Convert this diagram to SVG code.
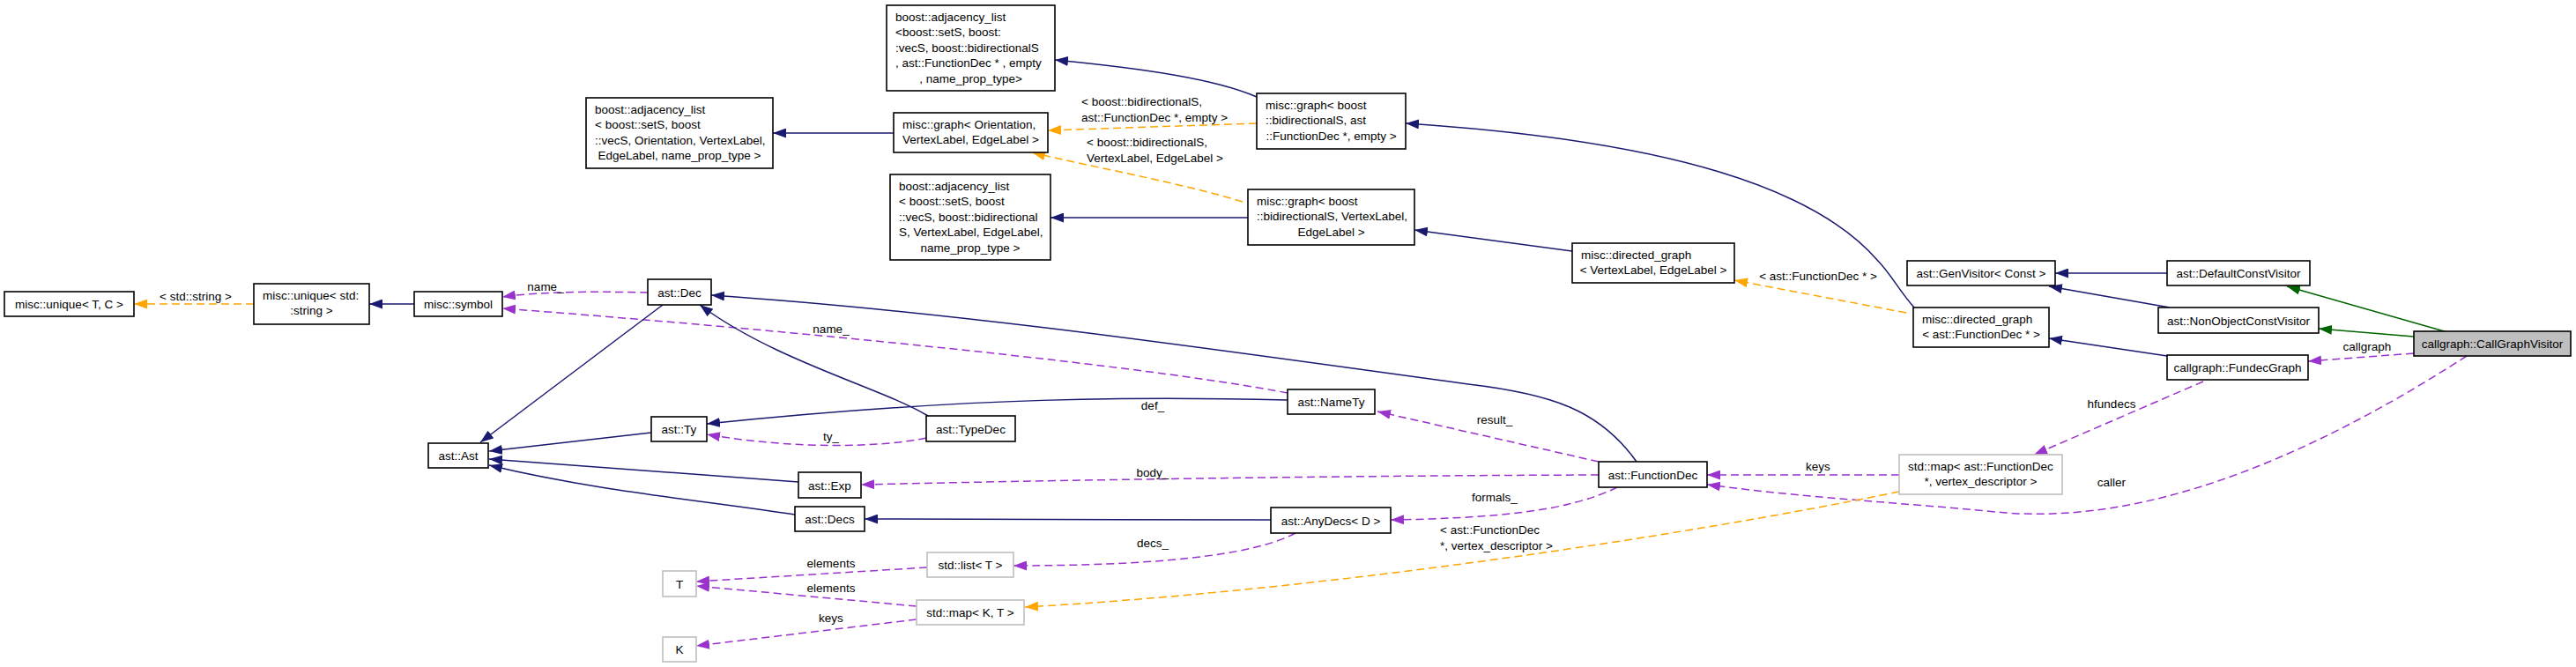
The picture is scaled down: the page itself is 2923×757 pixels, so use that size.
<svg xmlns="http://www.w3.org/2000/svg" width="2923" height="757" viewBox="0 0 2923 757">
<style>
.t{font-family:"Liberation Sans",Arial,Helvetica,sans-serif;font-size:13.5px;fill:#000}
.m{text-anchor:middle}
.b{fill:#fff;stroke:#000;stroke-width:1.6}
.g{fill:#fff;stroke:#bfbfbf;stroke-width:1.6}
.s{fill:#bfbfbf;stroke:#000;stroke-width:1.6}
.e{fill:none;stroke-width:1.5}
.nv{stroke:#191970;marker-end:url(#an)}
.pu{stroke:#9a32cd;stroke-dasharray:9,5;marker-end:url(#ap)}
.or{stroke:#ffa500;stroke-dasharray:9,5;marker-end:url(#ao)}
.gr{stroke:#006400;marker-end:url(#ag)}
</style>
<defs>
<marker id="an" viewBox="0 0 15 11" refX="15" refY="5.5" markerWidth="15" markerHeight="11" orient="auto" markerUnits="userSpaceOnUse"><path d="M0,0 L15,5.5 L0,11 z" fill="#191970"/></marker>
<marker id="ap" viewBox="0 0 15 11" refX="15" refY="5.5" markerWidth="15" markerHeight="11" orient="auto" markerUnits="userSpaceOnUse"><path d="M0,0 L15,5.5 L0,11 z" fill="#9a32cd"/></marker>
<marker id="ao" viewBox="0 0 15 11" refX="15" refY="5.5" markerWidth="15" markerHeight="11" orient="auto" markerUnits="userSpaceOnUse"><path d="M0,0 L15,5.5 L0,11 z" fill="#ffa500"/></marker>
<marker id="ag" viewBox="0 0 15 11" refX="15" refY="5.5" markerWidth="15" markerHeight="11" orient="auto" markerUnits="userSpaceOnUse"><path d="M0,0 L15,5.5 L0,11 z" fill="#006400"/></marker>
</defs>
<rect width="2923" height="757" fill="#fff"/>
<g id="edges">
<path class="e or" d="M288,345 L152,345"/>
<path class="e nv" d="M470,345 L419,345"/>
<path class="e nv" d="M1014,151 L877,151"/>
<path class="e nv" d="M1426,110 C1380,90 1300,78 1197,68"/>
<path class="e or" d="M1426,140 L1189,148"/>
<path class="e or" d="M1410,229 C1330,205 1240,190 1171,173"/>
<path class="e nv" d="M1416,247 L1192,247"/>
<path class="e nv" d="M1784,285 L1605,261"/>
<path class="e nv" d="M2172,349 C2155,330 2145,310 2130,295 C2060,215 1900,160 1595,140"/>
<path class="e or" d="M2163,355 L1968,318"/>
<path class="e nv" d="M2459,310 L2332,310"/>
<path class="e nv" d="M2462,349 L2325,325"/>
<path class="e gr" d="M2777,377 L2595,325"/>
<path class="e gr" d="M2739,382 L2631,373"/>
<path class="e nv" d="M2459,404 L2325,384"/>
<path class="e pu" d="M2739,401 L2619,410"/>
<path class="e pu" d="M2500,433 L2308,516"/>
<path class="e pu" d="M2155,539 L1937,539"/>
<path class="e pu" d="M2799,404 C2650,500 2450,600 2265,581 C2150,570 2050,565 1937,550"/>
<path class="e or" d="M2155,558 C1900,610 1500,670 1163,689"/>
<path class="e pu" d="M735,332 C690,331 620,330 570,337"/>
<path class="e pu" d="M1461,446 C1300,415 900,375 570,350"/>
<path class="e nv" d="M752,346 L545,502"/>
<path class="e nv" d="M739,491 L555,512"/>
<path class="e nv" d="M906,547 L555,521"/>
<path class="e nv" d="M902,584 C800,568 680,558 555,528"/>
<path class="e nv" d="M1053,472 C1000,440 880,410 794,346"/>
<path class="e nv" d="M1461,454 C1300,450 1100,450 802,481"/>
<path class="e pu" d="M1051,497 C1000,508 900,510 802,493"/>
<path class="e nv" d="M1857,524 C1815,465 1760,447 1666,436 C1400,400 1100,355 807,335"/>
<path class="e pu" d="M1814,524 L1563,467"/>
<path class="e pu" d="M1814,539 C1500,540 1200,545 977,550"/>
<path class="e pu" d="M1835,553 C1780,580 1700,588 1578,590"/>
<path class="e nv" d="M1442,590 L981,589"/>
<path class="e pu" d="M1470,605 C1420,632 1300,642 1150,642"/>
<path class="e pu" d="M1052,644 L790,660"/>
<path class="e pu" d="M1040,688 L790,665"/>
<path class="e pu" d="M1040,703 L790,733"/>
<text class="t m" x="222" y="341">&lt; std::string &gt;</text>
<text class="t m" x="619" y="330">name_</text>
<text class="t m" x="943" y="378">name_</text>
<text class="t" x="1227" y="120">&lt; boost::bidirectionalS,</text>
<text class="t" x="1227" y="138">ast::FunctionDec *, empty &gt;</text>
<text class="t" x="1233" y="166">&lt; boost::bidirectionalS,</text>
<text class="t" x="1233" y="184">VertexLabel, EdgeLabel &gt;</text>
<text class="t m" x="2063" y="318">&lt; ast::FunctionDec * &gt;</text>
<text class="t m" x="2686" y="398">callgraph</text>
<text class="t m" x="2396" y="463">hfundecs</text>
<text class="t m" x="2063" y="534">keys</text>
<text class="t m" x="2396" y="552">caller</text>
<text class="t m" x="1308" y="465">def_</text>
<text class="t m" x="1696" y="481">result_</text>
<text class="t m" x="1308" y="541">body_</text>
<text class="t m" x="1696" y="569">formals_</text>
<text class="t m" x="1308" y="621">decs_</text>
<text class="t m" x="943" y="500">ty_</text>
<text class="t m" x="943" y="644">elements</text>
<text class="t m" x="943" y="672">elements</text>
<text class="t m" x="943" y="706">keys</text>
<text class="t" x="1634" y="606">&lt; ast::FunctionDec</text>
<text class="t" x="1634" y="624">*, vertex_descriptor &gt;</text>
</g>
<g id="n_uniqueTC"><rect class="b" x="5" y="331" width="147" height="28"/><text class="t m" x="78.5" y="350">misc::unique&lt; T, C &gt;</text></g>
<g id="n_uniqueStr"><rect class="b" x="288" y="322" width="131" height="46"/><text class="t" x="298" y="340">misc::unique&lt; std:</text><text class="t m" x="353.5" y="357.4">:string &gt;</text></g>
<g id="n_symbol"><rect class="b" x="470" y="331" width="100" height="28"/><text class="t m" x="520" y="350">misc::symbol</text></g>
<g id="n_adjOri"><rect class="b" x="665" y="111" width="212" height="80"/><text class="t" x="675" y="129">boost::adjacency_list</text><text class="t" x="675" y="146.4">&lt; boost::setS, boost</text><text class="t" x="675" y="163.8">::vecS, Orientation, VertexLabel,</text><text class="t m" x="771" y="181.2">EdgeLabel, name_prop_type &gt;</text></g>
<g id="n_adjFD"><rect class="b" x="1006" y="6" width="191" height="97"/><text class="t" x="1016" y="24">boost::adjacency_list</text><text class="t" x="1016" y="41.4">&lt;boost::setS, boost:</text><text class="t" x="1016" y="58.8">:vecS, boost::bidirectionalS</text><text class="t" x="1016" y="76.2">, ast::FunctionDec * , empty</text><text class="t m" x="1101.5" y="93.6">, name_prop_type&gt;</text></g>
<g id="n_graphOri"><rect class="b" x="1014" y="128" width="175" height="45"/><text class="t" x="1024" y="146">misc::graph&lt; Orientation,</text><text class="t m" x="1101.5" y="163.4">VertexLabel, EdgeLabel &gt;</text></g>
<g id="n_adjVL"><rect class="b" x="1010" y="198" width="182" height="97"/><text class="t" x="1020" y="216">boost::adjacency_list</text><text class="t" x="1020" y="233.4">&lt; boost::setS, boost</text><text class="t" x="1020" y="250.8">::vecS, boost::bidirectional</text><text class="t" x="1020" y="268.2">S, VertexLabel, EdgeLabel,</text><text class="t m" x="1101" y="285.6">name_prop_type &gt;</text></g>
<g id="n_graphFD"><rect class="b" x="1426" y="106" width="169" height="63"/><text class="t" x="1436" y="124">misc::graph&lt; boost</text><text class="t" x="1436" y="141.4">::bidirectionalS, ast</text><text class="t m" x="1510.5" y="158.8">::FunctionDec *, empty &gt;</text></g>
<g id="n_graphVL"><rect class="b" x="1416" y="215" width="189" height="63"/><text class="t" x="1426" y="233">misc::graph&lt; boost</text><text class="t" x="1426" y="250.4">::bidirectionalS, VertexLabel,</text><text class="t m" x="1510.5" y="267.8">EdgeLabel &gt;</text></g>
<g id="n_dgVL"><rect class="b" x="1784" y="276" width="184" height="45"/><text class="t" x="1794" y="294">misc::directed_graph</text><text class="t m" x="1876" y="311.4">&lt; VertexLabel, EdgeLabel &gt;</text></g>
<g id="n_dgFD"><rect class="b" x="2171" y="349" width="154" height="45"/><text class="t" x="2181" y="367">misc::directed_graph</text><text class="t m" x="2248" y="384.4">&lt; ast::FunctionDec * &gt;</text></g>
<g id="n_genVisitor"><rect class="b" x="2164" y="296" width="168" height="28"/><text class="t m" x="2248" y="315">ast::GenVisitor&lt; Const &gt;</text></g>
<g id="n_defaultCV"><rect class="b" x="2459" y="296" width="162" height="28"/><text class="t m" x="2540" y="315">ast::DefaultConstVisitor</text></g>
<g id="n_nonObjCV"><rect class="b" x="2449" y="349" width="182" height="29"/><text class="t m" x="2540" y="368.5">ast::NonObjectConstVisitor</text></g>
<g id="n_cgv"><rect class="s" x="2739" y="376" width="178" height="28"/><text class="t m" x="2828" y="395">callgraph::CallGraphVisitor</text></g>
<g id="n_fundecGraph"><rect class="b" x="2459" y="403" width="160" height="28"/><text class="t m" x="2539" y="422">callgraph::FundecGraph</text></g>
<g id="n_mapFD"><rect class="g" x="2155" y="516" width="185" height="45"/><text class="t" x="2165" y="534">std::map&lt; ast::FunctionDec</text><text class="t m" x="2247.5" y="551.4">*, vertex_descriptor &gt;</text></g>
<g id="n_functionDec"><rect class="b" x="1814" y="524" width="123" height="29"/><text class="t m" x="1875.5" y="543.5">ast::FunctionDec</text></g>
<g id="n_dec"><rect class="b" x="735" y="317" width="72" height="29"/><text class="t m" x="771" y="336.5">ast::Dec</text></g>
<g id="n_ast"><rect class="b" x="486" y="503" width="68" height="28"/><text class="t m" x="520" y="522">ast::Ast</text></g>
<g id="n_ty"><rect class="b" x="739" y="473" width="63" height="28"/><text class="t m" x="770.5" y="492">ast::Ty</text></g>
<g id="n_exp"><rect class="b" x="906" y="536" width="71" height="29"/><text class="t m" x="941.5" y="555.5">ast::Exp</text></g>
<g id="n_decs"><rect class="b" x="902" y="575" width="79" height="28"/><text class="t m" x="941.5" y="594">ast::Decs</text></g>
<g id="n_T"><rect class="g" x="752" y="648" width="38" height="29"/><text class="t m" x="771" y="667.5">T</text></g>
<g id="n_K"><rect class="g" x="752" y="723" width="38" height="28"/><text class="t m" x="771" y="742">K</text></g>
<g id="n_nameTy"><rect class="b" x="1461" y="442" width="99" height="28"/><text class="t m" x="1510.5" y="461">ast::NameTy</text></g>
<g id="n_typeDec"><rect class="b" x="1051" y="472" width="101" height="29"/><text class="t m" x="1101.5" y="491.5">ast::TypeDec</text></g>
<g id="n_anyDecs"><rect class="b" x="1442" y="576" width="136" height="29"/><text class="t m" x="1510" y="595.5">ast::AnyDecs&lt; D &gt;</text></g>
<g id="n_list"><rect class="g" x="1052" y="627" width="98" height="28"/><text class="t m" x="1101" y="646">std::list&lt; T &gt;</text></g>
<g id="n_mapKT"><rect class="g" x="1040" y="681" width="122" height="28"/><text class="t m" x="1101" y="700">std::map&lt; K, T &gt;</text></g>
</svg>
